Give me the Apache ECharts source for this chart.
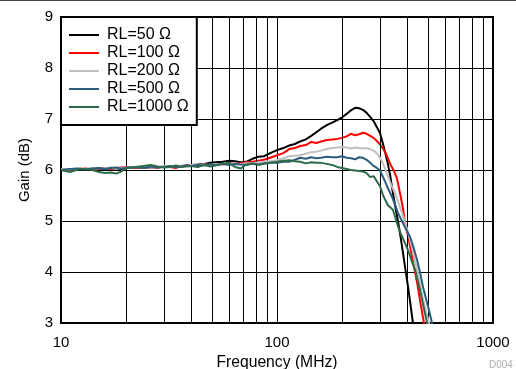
<!DOCTYPE html>
<html>
<head>
<meta charset="utf-8">
<script src="https://cdn.jsdelivr.net/npm/echarts@6/dist/echarts.min.js"></script>
<style>
html,body{margin:0;padding:0;background:#fff;}
#chart{width:516px;height:369px;}
</style>
</head>
<body>
<div id="chart"></div>
<script>
// Shared frequency points (MHz) up to 300 MHz
var freqs = [10, 11, 12, 13, 14, 15, 16, 17, 18, 19, 20, 22, 24, 26, 28, 30, 32, 34, 36, 38, 40, 43, 46, 49, 52, 56, 60, 64, 68, 72, 77, 82, 87, 93, 100, 107, 114, 121, 128, 136, 144, 152, 160, 170, 180, 190, 200, 210, 220, 230, 240, 250, 260, 270, 280, 290, 300];

var seriesNames = ['RL=50 \u03A9', 'RL=100 \u03A9', 'RL=200 \u03A9', 'RL=500 \u03A9', 'RL=1000 \u03A9'];

var gain50 = [6.00, 5.99, 6.02, 6.01, 6.03, 6.02, 6.03, 6.04, 6.03, 6.02, 6.04,
  6.05, 6.04, 6.06, 6.05, 6.07, 6.06, 6.08, 6.07, 6.09, 6.10,
  6.11, 6.12, 6.14, 6.15, 6.16, 6.18, 6.17, 6.15, 6.16, 6.22, 6.26, 6.27, 6.33,
  6.39, 6.43, 6.48, 6.51, 6.56, 6.60, 6.67, 6.74, 6.81, 6.88, 6.93, 6.98,
  7.03, 7.10, 7.17, 7.22, 7.21, 7.18, 7.12, 7.04, 6.96, 6.84, 6.72];
var tailFreq50 = [310, 318, 326, 334, 344, 354, 363, 373, 383, 393, 404, 415, 426, 440];
var tailGain50 = [6.50, 6.32, 6.12, 5.90, 5.55, 5.25, 5.00, 4.70, 4.38, 4.05, 3.72, 3.36, 3.00, 2.55];

var gain100 = [6.01, 6.00, 6.02, 6.03, 6.01, 6.03, 6.04, 6.02, 6.04, 6.05, 6.06,
  6.04, 6.05, 6.06, 6.05, 6.07, 6.06, 6.04, 6.08, 6.09, 6.10,
  6.09, 6.11, 6.10, 6.12, 6.11, 6.13, 6.12, 6.14, 6.15, 6.16, 6.18, 6.20, 6.24,
  6.29, 6.33, 6.41, 6.43, 6.47, 6.49, 6.55, 6.53, 6.56, 6.59, 6.60, 6.61,
  6.63, 6.66, 6.71, 6.68, 6.70, 6.73, 6.71, 6.67, 6.63, 6.57, 6.50];
var tailFreq100 = [310, 321, 334, 348, 359, 371, 383, 391, 409, 426, 445, 459, 479, 500];
var tailGain100 = [6.42, 6.30, 6.12, 5.98, 5.84, 5.55, 5.25, 4.98, 4.60, 4.20, 3.80, 3.45, 3.00, 2.55];

var gain200 = [6.02, 6.01, 6.03, 6.02, 6.04, 6.03, 6.04, 6.05, 6.03, 6.04, 6.05,
  6.06, 6.05, 6.07, 6.06, 6.08, 6.07, 6.08, 6.09, 6.08, 6.10,
  6.10, 6.11, 6.10, 6.12, 6.11, 6.12, 6.11, 6.12, 6.13, 6.13, 6.15, 6.16, 6.17,
  6.19, 6.23, 6.27, 6.28, 6.29, 6.32, 6.35, 6.36, 6.38, 6.41, 6.43, 6.44,
  6.45, 6.44, 6.42, 6.44, 6.43, 6.42, 6.43, 6.41, 6.38, 6.33, 6.24];
var tailFreq200 = [310, 326, 340, 352, 365, 379, 391, 404, 420, 436, 455, 474, 490, 506, 525];
var tailGain200 = [6.12, 5.88, 5.68, 5.55, 5.36, 5.16, 4.98, 4.78, 4.50, 4.22, 3.85, 3.48, 3.22, 3.00, 2.70];

var gain500 = [6.00, 6.02, 6.03, 6.01, 6.03, 6.04, 6.02, 6.04, 6.05, 6.03, 6.04,
  6.06, 6.04, 6.07, 6.05, 6.06, 6.08, 6.06, 6.07, 6.09, 6.08,
  6.10, 6.09, 6.11, 6.10, 6.12, 6.10, 6.12, 6.11, 6.10, 6.12, 6.11, 6.13, 6.14,
  6.14, 6.16, 6.16, 6.20, 6.24, 6.22, 6.25, 6.23, 6.24, 6.26, 6.25, 6.25,
  6.27, 6.24, 6.23, 6.21, 6.25, 6.24, 6.20, 6.14, 6.08, 6.04, 5.99];
var tailFreq500 = [316, 328, 341, 352, 363, 377, 391, 413, 430, 445, 460, 474, 490, 506, 522, 540];
var tailGain500 = [5.78, 5.62, 5.47, 5.32, 5.16, 5.02, 4.88, 4.69, 4.46, 4.24, 3.98, 3.71, 3.47, 3.24, 3.00, 2.72];

var gain1000 = [6.00, 5.96, 6.01, 6.02, 6.00, 5.96, 5.94, 5.95, 5.93, 5.97, 6.04,
  6.06, 6.08, 6.10, 6.07, 6.05, 6.06, 6.09, 6.06, 6.07, 6.08,
  6.06, 6.10, 6.07, 6.09, 6.12, 6.14, 6.06, 6.03, 6.11, 6.13, 6.10, 6.12, 6.14,
  6.16, 6.18, 6.19, 6.17, 6.16, 6.13, 6.15, 6.14, 6.14, 6.12, 6.10, 6.06,
  6.04, 6.02, 6.00, 5.99, 5.98, 5.97, 5.94, 5.86, 5.88, 5.78, 5.68];
var tailFreq1000 = [310, 326, 344, 363, 377, 391, 404, 420, 436, 459, 477, 495, 515];
var tailGain1000 = [5.50, 5.31, 5.22, 4.90, 4.72, 4.57, 4.43, 4.22, 4.04, 3.65, 3.32, 3.00, 2.65];

var xTicks = [10, 100, 1000];
var yTicks = [3, 4, 5, 6, 7, 8, 9];
var minorGridFreqs = [20, 30, 40, 50, 60, 70, 80, 90, 200, 300, 400, 500, 600, 700, 800, 900];

var colors = ['#000000', '#ff0000', '#c0c0c0', '#2c5c7c', '#2e6b4b'];

function pairs(fs, gs, tfs, tgs) {
  var out = fs.map(function (f, i) { return [f, gs[i]]; });
  return out.concat(tfs.map(function (f, i) { return [f, tgs[i]]; }));
}
var allData = [
  pairs(freqs, gain50, tailFreq50, tailGain50),
  pairs(freqs, gain100, tailFreq100, tailGain100),
  pairs(freqs, gain200, tailFreq200, tailGain200),
  pairs(freqs, gain500, tailFreq500, tailGain500),
  pairs(freqs, gain1000, tailFreq1000, tailGain1000)
];

var FONT = '"Liberation Sans", Arial, Helvetica, sans-serif';

var series = [{
  name: 'grid-minor',
  type: 'line',
  data: [],
  silent: true,
  z: 1,
  markLine: {
    silent: true,
    symbol: ['none', 'none'],
    label: { show: false },
    animation: false,
    lineStyle: { color: '#000', width: 1, type: 'solid' },
    data: minorGridFreqs.map(function (f) { return { xAxis: f }; })
  }
}];
seriesNames.forEach(function (n, i) {
  series.push({
    name: n,
    type: 'line',
    data: allData[i],
    symbol: 'none',
    showSymbol: false,
    z: 3 + i,
    clip: true,
    lineStyle: { color: colors[i], width: 2 },
    itemStyle: { color: colors[i] }
  });
});

var chart = echarts.init(document.getElementById('chart'), null, { renderer: 'canvas' });
chart.setOption({
  animation: false,
  backgroundColor: '#fff',
  grid: { left: 61, right: 23, top: 17, bottom: 46, containLabel: false, outerBoundsMode: 'none', show: true, borderColor: '#000', borderWidth: 2, backgroundColor: 'transparent' },
  legend: {
    data: seriesNames,
    orient: 'vertical',
    left: 61,
    top: 17,
    z: 50,
    padding: [9, 8, 9, 8],
    itemGap: 0,
    itemWidth: 30,
    itemHeight: 2,
    icon: 'rect',
    backgroundColor: '#fff',
    borderColor: '#000',
    borderWidth: 2,
    borderRadius: 0,
    textStyle: { fontFamily: FONT, fontSize: 16, color: '#000', lineHeight: 18, padding: [0, 0, 0, 3] }
  },
  xAxis: {
    type: 'log',
    logBase: 10,
    min: xTicks[0],
    max: xTicks[xTicks.length - 1],
    name: 'Frequency (MHz)',
    nameLocation: 'middle',
    nameGap: 28,
    nameTextStyle: { fontFamily: FONT, fontSize: 15.7, color: '#000' },
    axisLine: { show: true, lineStyle: { color: '#000', width: 2 } },
    axisTick: { show: false },
    axisLabel: { fontFamily: FONT, fontSize: 15, color: '#000', margin: 12, formatter: function (v) { return String(v); } },
    splitLine: { show: true, lineStyle: { color: '#000', width: 1 } }
  },
  yAxis: {
    type: 'value',
    min: yTicks[0],
    max: yTicks[yTicks.length - 1],
    interval: 1,
    name: 'Gain (dB)',
    nameLocation: 'middle',
    nameGap: 29,
    nameRotate: 90,
    nameTextStyle: { fontFamily: FONT, fontSize: 15, color: '#000' },
    axisLine: { show: true, lineStyle: { color: '#000', width: 2 } },
    axisTick: { show: false },
    axisLabel: { fontFamily: FONT, fontSize: 15, color: '#000', margin: 8 },
    splitLine: { show: true, lineStyle: { color: '#000', width: 1 } }
  },
  graphic: [
    { type: 'line', shape: { x1: 0, y1: 0.5, x2: 516, y2: 0.5 }, style: { stroke: '#444', lineWidth: 1 } },
    { type: 'text', left: 489, top: 360, style: { text: 'D004', fill: '#b0b0b0', font: '10px ' + FONT } }
  ],
  series: series
});
</script>
</body>
</html>
